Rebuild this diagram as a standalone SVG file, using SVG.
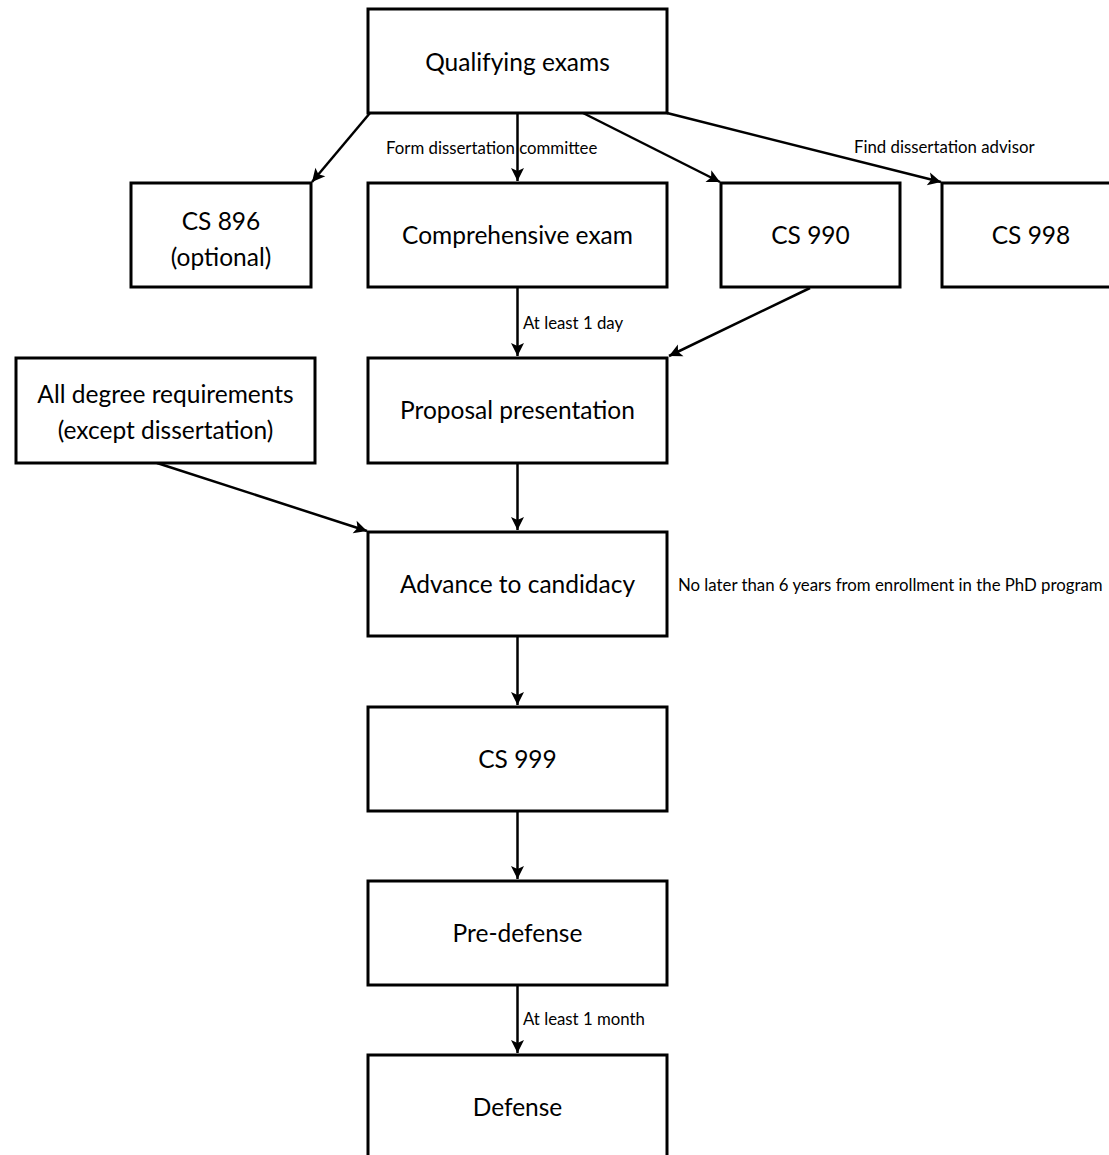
<svg xmlns="http://www.w3.org/2000/svg" width="1109" height="1155" viewBox="0 0 1109 1155">
  <style>
    .box { fill: #ffffff; stroke: #000000; stroke-width: 3; }
    .t { font-family: Lato, "Open Sans", "Liberation Sans", sans-serif; font-size: 24.5px; fill: #000000; text-anchor: middle; }
    .lbl { font-family: Lato, "Open Sans", "Liberation Sans", sans-serif; font-size: 16.8px; fill: #000000; }
    .edge { fill: none; stroke: #000000; stroke-width: 2.5; marker-end: url(#arrow); }
  </style>
  <defs>
    <marker id="arrow" markerUnits="userSpaceOnUse" viewBox="-14 -8 15 16" refX="0" refY="0" markerWidth="15" markerHeight="16" orient="auto">
      <path d="M0,0 L-13,-6.5 L-10,0 L-13,6.5 Z" fill="#000000"/>
    </marker>
  </defs>
  <rect width="1109" height="1155" fill="#ffffff"/>

  <g id="connectors">
    <path class="edge" d="M370,113 L312,182"/>
    <path class="edge" d="M517.5,113 L517.5,181"/>
    <path class="edge" d="M583,113 L720,182"/>
    <path class="edge" d="M667,113 L941,182"/>
    <path class="edge" d="M517.5,287 L517.5,356"/>
    <path class="edge" d="M810,288 L669,356"/>
    <path class="edge" d="M157,463 L367,531"/>
    <path class="edge" d="M517.5,463 L517.5,530"/>
    <path class="edge" d="M517.5,636 L517.5,705"/>
    <path class="edge" d="M517.5,811 L517.5,879"/>
    <path class="edge" d="M517.5,985 L517.5,1053"/>
    <text class="lbl" x="386" y="154">Form dissertation committee</text>
    <text class="lbl" x="854" y="153">Find dissertation advisor</text>
    <text class="lbl" x="523" y="329">At least 1 day</text>
    <text class="lbl" x="523" y="1025">At least 1 month</text>
    <text class="lbl" x="678" y="591">No later than 6 years from enrollment in the PhD program</text>
  </g>

  <g id="qualifying">
    <rect class="box" x="368" y="9" width="299" height="104"/>
    <text class="t" x="517.5" y="71">Qualifying exams</text>
  </g>
  <g id="cs896">
    <rect class="box" x="131" y="183" width="180" height="104"/>
    <text class="t" x="221" y="230">CS 896</text>
    <text class="t" x="221" y="266">(optional)</text>
  </g>
  <g id="comprehensive">
    <rect class="box" x="368" y="183" width="299" height="104"/>
    <text class="t" x="517.5" y="244">Comprehensive exam</text>
  </g>
  <g id="cs990">
    <rect class="box" x="721" y="183" width="179" height="104"/>
    <text class="t" x="810.5" y="244">CS 990</text>
  </g>
  <g id="cs998">
    <rect class="box" x="942" y="183" width="179" height="104"/>
    <text class="t" x="1031" y="244">CS 998</text>
  </g>
  <g id="alldegree">
    <rect class="box" x="16" y="358" width="299" height="105"/>
    <text class="t" x="165.5" y="403">All degree requirements</text>
    <text class="t" x="165.5" y="439">(except dissertation)</text>
  </g>
  <g id="proposal">
    <rect class="box" x="368" y="358" width="299" height="105"/>
    <text class="t" x="517.5" y="419">Proposal presentation</text>
  </g>
  <g id="advance">
    <rect class="box" x="368" y="532" width="299" height="104"/>
    <text class="t" x="517.5" y="593">Advance to candidacy</text>
  </g>
  <g id="cs999">
    <rect class="box" x="368" y="707" width="299" height="104"/>
    <text class="t" x="517.5" y="768">CS 999</text>
  </g>
  <g id="predefense">
    <rect class="box" x="368" y="881" width="299" height="104"/>
    <text class="t" x="517.5" y="942">Pre-defense</text>
  </g>
  <g id="defense">
    <rect class="box" x="368" y="1055" width="299" height="104"/>
    <text class="t" x="517.5" y="1116">Defense</text>
  </g>
</svg>
